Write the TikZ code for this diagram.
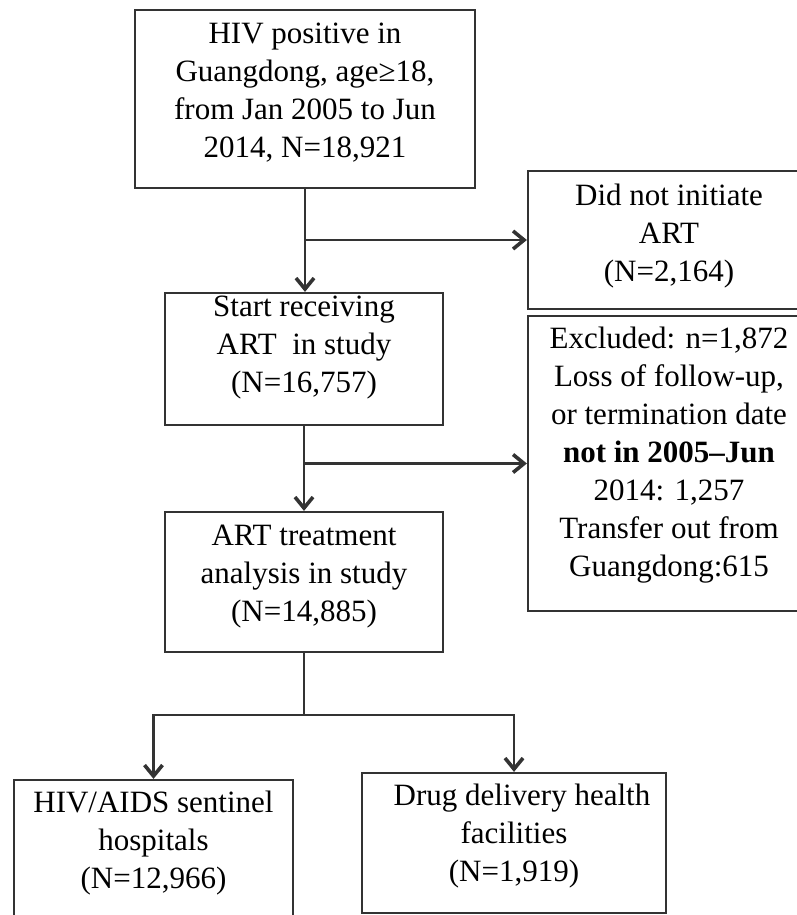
\documentclass[tikz,border=0pt]{standalone}
\usepackage{fontspec}
\setmainfont{Liberation Serif}
\usetikzlibrary{arrows.meta}
\newcommand\mylines[1]{\begin{tabular}[t]{@{}c@{}}#1\end{tabular}}
\begin{document}
\begin{tikzpicture}[x=0.5pt,y=-0.5pt,
  box/.style 2 args={draw=black!80, line width=1.1pt, inner sep=0pt,
    minimum width=#1, minimum height=#2},
  txt/.style={anchor=base, inner sep=0pt, text=black,
    font=\fontsize{15.5pt}{19pt}\selectfont},
  conn/.style={draw=black!80, line width=1.1pt},
  arr/.style={conn, -{Straight Barb[length=5.5pt,width=9pt,line width=1.8pt]}}]
\useasboundingbox (0,0) rectangle (797,915);
\clip (0,0) rectangle (797,915);
% boxes
\node[box={170pt}{89pt}]   (b1) at (305,99) {};
\node[box={141pt}{69pt}]   (r1) at (669,240) {};
\node[box={139pt}{66pt}]   (b2) at (304,359) {};
\node[box={141pt}{147.5pt}] (r2) at (669,463.5) {};
\node[box={139pt}{70pt}]   (b3) at (304,582) {};
\node[box={139.5pt}{72.5pt}] (bl) at (153.5,852.5) {};
\node[box={152pt}{70pt}]   (br) at (514,843) {};
% texts
\node[txt] (t1) at (305,44) {\mylines{HIV positive in\\Guangdong, age≥18,\\from Jan 2005 to Jun\\2014, N=18,921}};
\node[txt] (tr1) at (669,205) {\mylines{Did not initiate\\ART\\(N=2,164)}};
\node[txt] (t2) at (304,316) {\mylines{Start receiving\\ART\ \ in study\\(N=16,757)}};
\node[txt] (tr2) at (669,348) {\mylines{Excluded: n=1,872\\Loss of follow-up,\\or termination date\\\textbf{not in 2005–Jun}\\2014: 1,257\\Transfer out from\\Guangdong:615}};
\node[txt] (t3) at (304,545) {\mylines{ART treatment\\analysis in study\\(N=14,885)}};
\node[txt] (tbl) at (153.5,812) {\mylines{HIV/AIDS sentinel\\hospitals\\(N=12,966)}};
\node[txt] (tbr) at (514,805) {\mylines{\hspace*{8pt}Drug delivery health\\facilities\\(N=1,919)}};
% connectors
\coordinate (j1) at (b1.south |- r1.west);
\coordinate (j2) at (b2.south |- r2.west);
\coordinate (j3) at (304,715);
\draw[arr] (b1.south) -- (b1.south |- b2.north);
\draw[arr] (j1) -- (r1.west);
\draw[arr] (b2.south) -- (b2.south |- b3.north);
\draw[arr] (j2) -- (r2.west);
\draw[conn] (b3.south) -- (j3);
\draw[arr] (j3) -| (bl.north);
\draw[arr] (j3) -| (br.north);
\end{tikzpicture}
\end{document}
